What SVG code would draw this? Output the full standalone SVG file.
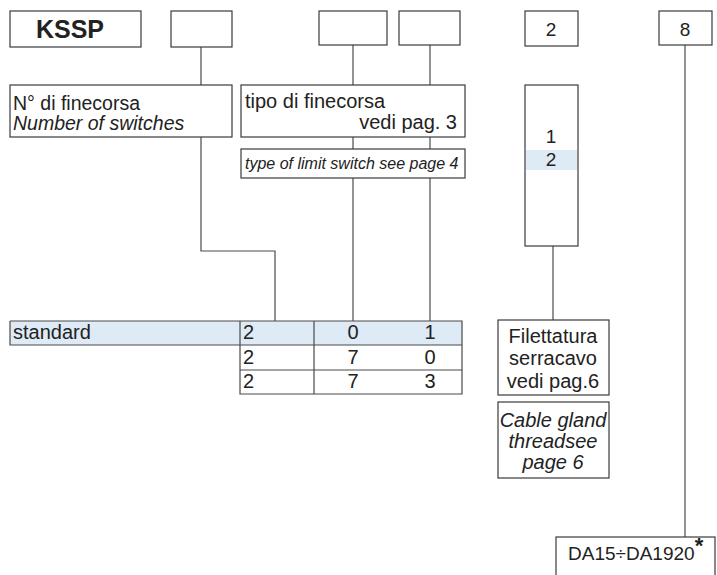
<svg xmlns="http://www.w3.org/2000/svg" width="717" height="575" viewBox="0 0 717 575">
<style>
  .box{fill:#fff;stroke:#3a3a3a;stroke-width:1.2}
  .hl{fill:#deeaf6}
  .ln{fill:none;stroke:#4a4a4a;stroke-width:1.2}
  text{font-family:"Liberation Sans",Arial,sans-serif;fill:#222;font-size:20px}
  .it{font-style:italic}
  .sm{font-size:16px}
  .mid{text-anchor:middle}
  .end{text-anchor:end}
</style>
<rect width="717" height="575" fill="#fff"/>
<g id="connectors">
  <polyline class="ln" points="201,47 201,251 275,251 275,321"/>
  <line class="ln" x1="353" y1="45" x2="353" y2="321"/>
  <line class="ln" x1="430" y1="45" x2="430" y2="321"/>
  <line class="ln" x1="553" y1="246" x2="553" y2="320"/>
  <line class="ln" x1="685" y1="45" x2="685" y2="537"/>
</g>
<g id="code-kssp"><rect class="box" x="10" y="11" width="131" height="36"/><text x="70" y="38" class="mid" style="font-weight:bold;font-size:25px">KSSP</text></g>
<g id="code-box1"><rect class="box" x="171" y="11" width="61" height="36"/></g>
<g id="code-box2"><rect class="box" x="319" y="11" width="68" height="34"/></g>
<g id="code-box3"><rect class="box" x="399" y="11" width="61" height="34"/></g>
<g id="code-box4"><rect class="box" x="525" y="11" width="53" height="35"/><text x="551" y="36" class="mid" style="font-size:19px">2</text></g>
<g id="code-box5"><rect class="box" x="659" y="11" width="53" height="34"/><text x="685" y="36" class="mid" style="font-size:19px">8</text></g>
<g id="num-switches"><rect class="box" x="10" y="85" width="222" height="52"/><text x="13" y="110" style="font-size:19.5px">N° di finecorsa</text><text x="13" y="130" class="it" style="font-size:19.5px">Number of switches</text></g>
<g id="switch-type"><rect class="box" x="241" y="85" width="224" height="52"/><text x="245" y="108">tipo di finecorsa</text><text x="457" y="129" class="end">vedi pag. 3</text></g>
<g id="switch-type-en"><rect class="box" x="241" y="149" width="224" height="29"/><text x="245" y="169" class="it sm">type of limit switch see page 4</text></g>
<g id="thread-options"><rect class="box" x="525" y="85" width="53" height="161"/><rect class="hl" x="526" y="150" width="51" height="20"/><text x="551" y="143" class="mid" style="font-size:19px">1</text><text x="551" y="166" class="mid" style="font-size:19px">2</text></g>
<g id="table">
  <rect class="hl" x="10" y="321" width="452" height="24"/>
  <path class="ln" d="M10,321 H462 V394 H240 V321 M10,321 V345 H462 M240,370 H462 M314,321 V394"/>
  <text x="13" y="339">standard</text>
  <text x="243" y="339">2</text><text x="353" y="339" class="mid">0</text><text x="430" y="339" class="mid">1</text>
  <text x="243" y="364">2</text><text x="353" y="364" class="mid">7</text><text x="430" y="364" class="mid">0</text>
  <text x="243" y="388">2</text><text x="353" y="388" class="mid">7</text><text x="430" y="388" class="mid">3</text>
</g>
<g id="gland-thread"><rect class="box" x="498" y="320" width="111" height="75"/><text x="553" y="343" class="mid">Filettatura</text><text x="553" y="365" class="mid">serracavo</text><text x="553" y="388" class="mid">vedi pag.6</text></g>
<g id="gland-thread-en"><rect class="box" x="498" y="402" width="111" height="76"/><text x="553" y="427" class="mid it">Cable gland</text><text x="553" y="448" class="mid it">threadsee</text><text x="553" y="469" class="mid it">page 6</text></g>
<g id="da-range"><rect class="box" x="556" y="537" width="159" height="45"/><text x="568" y="560" style="font-size:19px">DA15÷DA1920<tspan dy="-7" style="font-weight:bold;font-size:22px">*</tspan></text></g>
</svg>
